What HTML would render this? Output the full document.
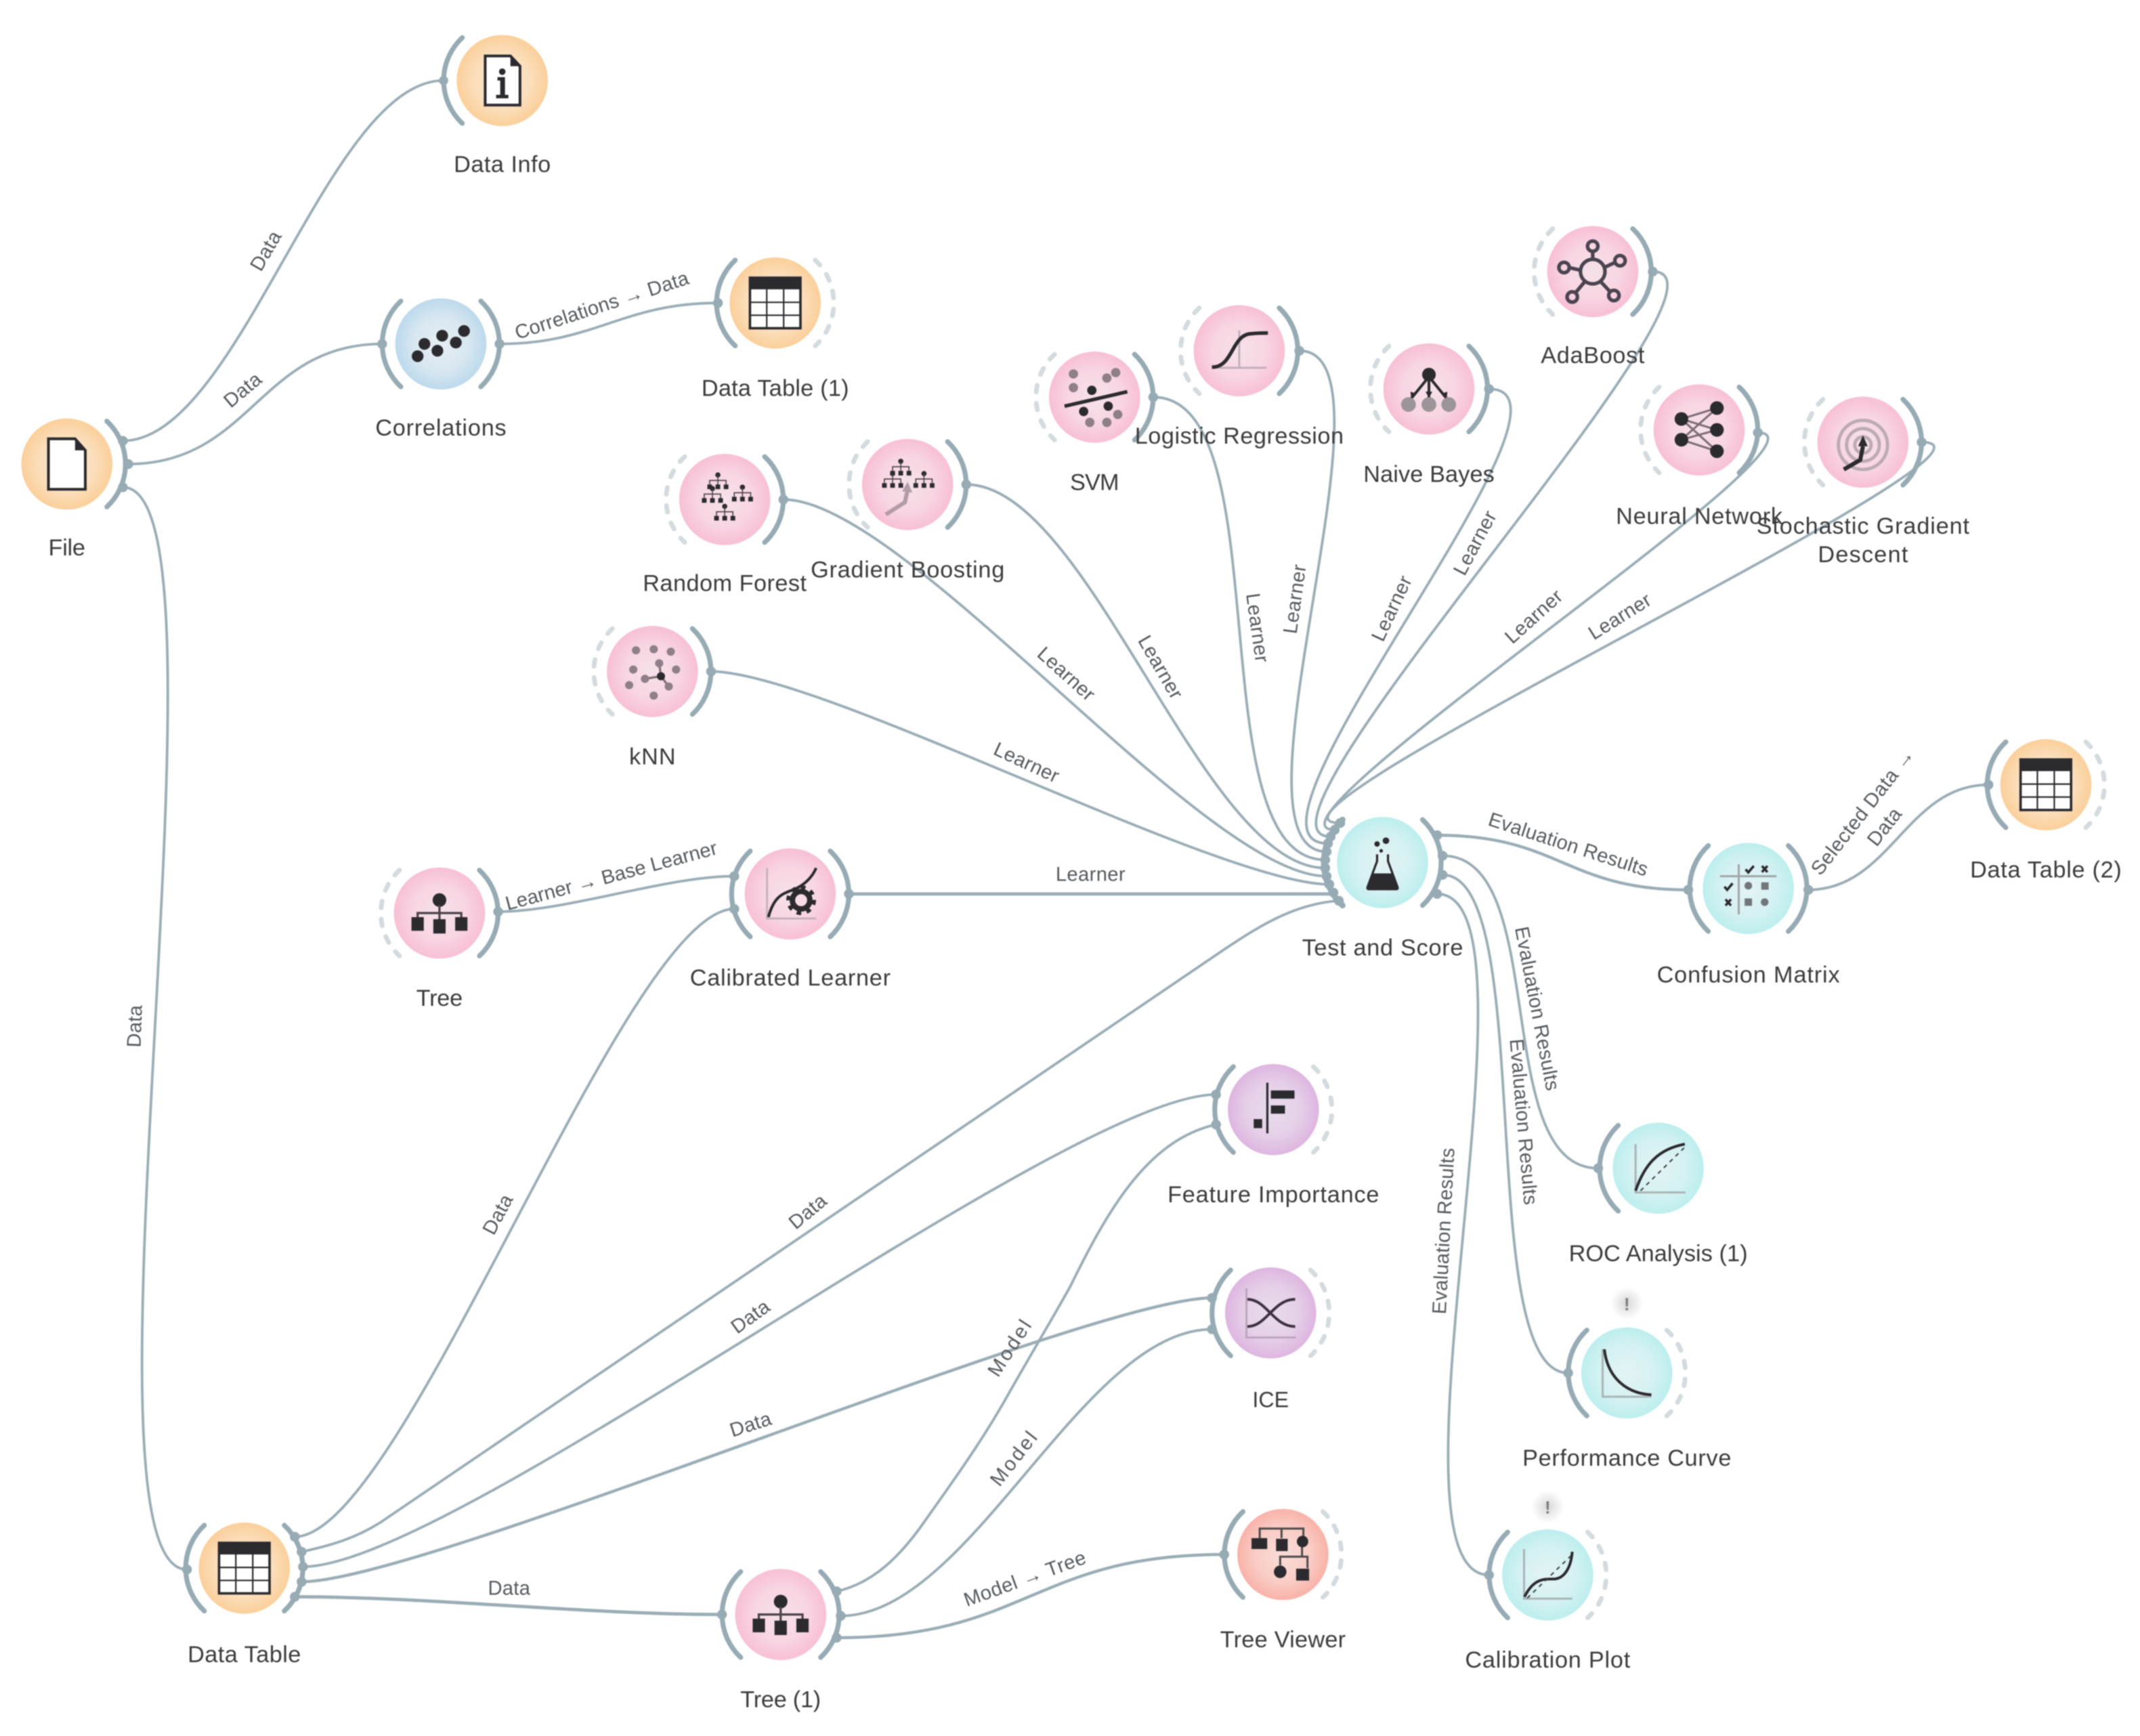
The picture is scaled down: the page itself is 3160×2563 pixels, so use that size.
<!DOCTYPE html>
<html><head><meta charset="utf-8"><title>Orange workflow</title>
<style>
html,body{margin:0;padding:0;background:#fff}
svg{display:block;filter:blur(0.9px)}
.e{fill:none;stroke:#9aadb6;stroke-width:1.9}
.a{fill:none;stroke:#97abb4;stroke-width:3.6;stroke-linecap:round}
.d{fill:none;stroke:#d4dbde;stroke-width:3.4;stroke-linecap:round;stroke-dasharray:5 8.2}
.p{fill:#97abb4}
.n{font-family:"Liberation Sans",sans-serif;font-size:17px;fill:#3b3b3d;text-anchor:middle}
.l{font-family:"Liberation Sans",sans-serif;font-size:14.5px;fill:#555a5e;text-anchor:middle}
.k{fill:#2b2a2e}
.g{fill:none;stroke:#b7a9b3;stroke-width:1.4}
</style></head><body>
<svg xmlns="http://www.w3.org/2000/svg" width="3160" height="2563" viewBox="0 0 1568 1272" preserveAspectRatio="none">
<defs>
<radialGradient id="o"><stop offset="0" stop-color="#fbe6cf"/><stop offset=".6" stop-color="#fbdfbd"/><stop offset="1" stop-color="#fbcf9a"/></radialGradient>
<radialGradient id="b"><stop offset="0" stop-color="#e6eef3"/><stop offset=".6" stop-color="#d8e7f1"/><stop offset="1" stop-color="#bcd9ec"/></radialGradient>
<radialGradient id="r"><stop offset="0" stop-color="#f5e2e9"/><stop offset=".6" stop-color="#f8d5e2"/><stop offset="1" stop-color="#f8bfd5"/></radialGradient>
<radialGradient id="t"><stop offset="0" stop-color="#e4f3f4"/><stop offset=".6" stop-color="#d5f1f2"/><stop offset="1" stop-color="#bdeeee"/></radialGradient>
<radialGradient id="u"><stop offset="0" stop-color="#e8dcec"/><stop offset=".6" stop-color="#e5cfe8"/><stop offset="1" stop-color="#deb5e0"/></radialGradient>
<radialGradient id="s"><stop offset="0" stop-color="#f9dcd7"/><stop offset=".6" stop-color="#f9cdc6"/><stop offset="1" stop-color="#f9b2a8"/></radialGradient>
<radialGradient id="w"><stop offset="0" stop-color="#d8d8d8"/><stop offset="1" stop-color="#ffffff"/></radialGradient>
<path id="aL" d="M-29.3 -31.4A43 43 0 0 0 -29.3 31.4"/>
<path id="aR" d="M29.3 -31.4A43 43 0 0 1 29.3 31.4"/>
<g id="tbl"><rect x="-18.5" y="-18.5" width="37" height="37" fill="#fff" stroke="#2b2a2e" stroke-width="1.8"/><rect x="-18.5" y="-18.5" width="37" height="8.5" class="k"/><path d="M-6.2 -10V18.5M6.2 -10V18.5M-18.5 -0.5H18.5M-18.5 9H18.5" stroke="#2b2a2e" stroke-width="1.1" fill="none"/></g>
<g id="tree"><circle cy="-9.5" r="5" class="k"/><path d="M0 -6V7M-16 6V0H16V6" fill="none" stroke="#4a4248" stroke-width="1.6"/><rect x="-20.5" y="3" width="9" height="10" class="k"/><rect x="-4.5" y="4.5" width="9" height="10.5" class="k"/><rect x="11.5" y="3" width="9" height="10" class="k"/></g>
<g id="mt"><circle r="1.9" class="k"/><path d="M0 0V7M-6 7V4H6V7" fill="none" stroke="#4a4248" stroke-width=".8"/><rect x="-7.7" y="7" width="3.4" height="3.4" class="k"/><rect x="-1.7" y="7" width="3.4" height="3.4" class="k"/><rect x="4.3" y="7" width="3.4" height="3.4" class="k"/></g>
</defs>

<!-- edges -->
<g class="e">
<path d="M90 323C175 323 240 59 325 59"/>
<path d="M94 340C184 340 190 252 280 252"/>
<path d="M90 357C180 357 47 1150 137 1150"/>
<path d="M366 252C436 252 456 222 526 222"/>
<path d="M845 291C940 291 876 630 971 630"/>
<path d="M952 257C1032 257 892 624 972 624"/>
<path d="M1091 285C1176 285 888 618 973 618"/>
<path d="M1211 199C1291 199 895 613 975 613"/>
<path d="M1288 317C1358 317 908 608 978 608"/>
<path d="M1408 324C1498 324 892 603 982 603"/>
<path d="M708 355C798 355 881 636 971 636"/>
<path d="M574 366C664 366 882 642 972 642"/>
<path d="M521 492C601 492 894 648 974 648"/>
<path d="M622 655H977" style="stroke-width:2.4"/>
<path d="M365 668C415 668 488 642 538 642"/>
<path d="M216 1126C296 1126 458 666 538 666"/>
<path d="M221 1137C245 1132 262 1126 278 1116L898 695C925 677 950 662 981 660"/>
<path d="M222 1148C332 1148 781 802 891 802"/>
<path d="M221 1159C311 1159 798 951 888 951" style="stroke-width:2.2"/>
<path d="M216 1170C316 1170 429 1183 529 1183" style="stroke-width:2.4"/>
<path d="M613 1166C640 1160 660 1140 678 1114C700 1083 720 1055 738 1023C755 993 770 968 784 943C810 890 840 835 891 824"/>
<path d="M616 1184C711 1184 793 974 888 974"/>
<path d="M613 1200C753 1200 757 1139 897 1139" style="stroke-width:2.2"/>
<path d="M1053 612C1143 612 1147 652 1237 652" style="stroke-width:2.2"/>
<path d="M1057 627C1137 627 1091 856 1171 856"/>
<path d="M1057 641C1127 641 1079 1006 1149 1006"/>
<path d="M1053 655C1138 655 1006 1154 1091 1154"/>
<path d="M1325 652C1385 652 1397 575 1457 575"/>
</g>

<!-- anchors -->
<g class="p">
<circle cx="325" cy="59" r="3.4"/><circle cx="90" cy="323" r="3.6"/><circle cx="94" cy="340" r="3.6"/><circle cx="90" cy="357" r="3.6"/>
<circle cx="280" cy="252" r="3.6"/><circle cx="366" cy="252" r="3.6"/><circle cx="526" cy="222" r="3.6"/>
<circle cx="574" cy="366" r="3.6"/><circle cx="708" cy="355" r="3.6"/><circle cx="845" cy="291" r="3.6"/><circle cx="952" cy="257" r="3.6"/><circle cx="1091" cy="285" r="3.6"/><circle cx="1211" cy="199" r="3.6"/><circle cx="1288" cy="317" r="3.6"/><circle cx="1408" cy="324" r="3.6"/><circle cx="521" cy="492" r="3.6"/><circle cx="365" cy="668" r="3.6"/><circle cx="538" cy="642" r="3.6"/><circle cx="538" cy="666" r="3.6"/><circle cx="622" cy="655" r="3.6"/>
<circle cx="982" cy="603" r="3.6"/><circle cx="978" cy="608" r="3.6"/><circle cx="975" cy="613" r="3.6"/><circle cx="973" cy="618" r="3.6"/><circle cx="972" cy="624" r="3.6"/><circle cx="971" cy="630" r="3.6"/><circle cx="971" cy="636" r="3.6"/><circle cx="972" cy="642" r="3.6"/><circle cx="974" cy="648" r="3.6"/><circle cx="977" cy="654" r="3.6"/><circle cx="981" cy="660" r="3.6"/>
<circle cx="1053" cy="612" r="3.6"/><circle cx="1057" cy="627" r="3.6"/><circle cx="1057" cy="641" r="3.6"/><circle cx="1053" cy="655" r="3.6"/>
<circle cx="1237" cy="652" r="3.6"/><circle cx="1325" cy="652" r="3.6"/><circle cx="1457" cy="575" r="3.6"/><circle cx="1171" cy="856" r="3.6"/><circle cx="1149" cy="1006" r="3.6"/><circle cx="1091" cy="1154" r="3.6"/>
<circle cx="137" cy="1150" r="3.6"/><circle cx="216" cy="1126" r="3.6"/><circle cx="221" cy="1137" r="3.6"/><circle cx="222" cy="1148" r="3.6"/><circle cx="221" cy="1159" r="3.6"/><circle cx="216" cy="1170" r="3.6"/>
<circle cx="529" cy="1183" r="3.6"/><circle cx="613" cy="1166" r="3.6"/><circle cx="616" cy="1184" r="3.6"/><circle cx="613" cy="1200" r="3.6"/><circle cx="897" cy="1139" r="3.6"/>
<circle cx="891" cy="802" r="3.6"/><circle cx="891" cy="824" r="3.6"/><circle cx="888" cy="951" r="3.6"/><circle cx="888" cy="974" r="3.6"/>
</g>

<!-- File -->
<g transform="translate(49 340)"><circle r="33.4" fill="url(#o)"/><use href="#aR" class="a"/>
<path d="M-13.5 -18.5H6L13.5 -10V18.5H-13.5Z" fill="#fff" stroke="#2b2a2e" stroke-width="2"/><path d="M6 -18.5L13.5 -10H6Z" class="k"/></g>
<!-- Data Info -->
<g transform="translate(368 59)"><circle r="33.4" fill="url(#o)"/><use href="#aL" class="a"/>
<path d="M-12.5 -18H6L13 -10.5V18H-12.5Z" fill="#fff" stroke="#2b2a2e" stroke-width="2"/><path d="M6 -18L13 -10.5H6Z" class="k"/>
<circle cy="-6.5" r="2.4" class="k"/><path d="M-3.5 -2.5H2V10.5H4.5V13H-4.5V10.5H-1.5V0H-3.5Z" class="k"/></g>
<!-- Correlations -->
<g transform="translate(323 252)"><circle r="33.4" fill="url(#b)"/><use href="#aL" class="a"/><use href="#aR" class="a"/>
<g class="k"><circle cx="-17" cy="9" r="4.3"/><circle cx="-12" cy="0" r="4.3"/><circle cx="-2.5" cy="5" r="4.3"/><circle cx="1" cy="-6" r="4.3"/><circle cx="11" cy="-1" r="4.3"/><circle cx="17" cy="-9.5" r="4.3"/></g></g>
<!-- Data Table (1) -->
<g transform="translate(568 222)"><circle r="33.4" fill="url(#o)"/><use href="#aL" class="a"/><use href="#aR" class="d"/><use href="#tbl"/></g>
<!-- Data Table (2) -->
<g transform="translate(1499 575)"><circle r="33.4" fill="url(#o)"/><use href="#aL" class="a"/><use href="#aR" class="d"/><use href="#tbl"/></g>
<!-- Data Table -->
<g transform="translate(179 1149)"><circle r="33.4" fill="url(#o)"/><use href="#aL" class="a"/><use href="#aR" class="a"/><use href="#tbl"/></g>
<!-- Random Forest -->
<g transform="translate(531 366)"><circle r="33.4" fill="url(#r)"/><use href="#aL" class="d"/><use href="#aR" class="a"/>
<use href="#mt" x="-5" y="-18"/><use href="#mt" x="13" y="-9"/><use href="#mt" x="-9" y="-8"/><use href="#mt" x="0" y="5"/></g>
<!-- Gradient Boosting -->
<g transform="translate(665 355)"><circle r="33.4" fill="url(#r)"/><use href="#aL" class="d"/><use href="#aR" class="a"/>
<use href="#mt" x="-5" y="-17"/><use href="#mt" x="12" y="-8"/><use href="#mt" x="-11" y="-8"/>
<path d="M-16 22L-2 13L0 4" fill="none" stroke="#b39ca8" stroke-width="3"/><path d="M-4 5L0 -2L3.5 6Z" fill="#b39ca8"/></g>
<!-- SVM -->
<g transform="translate(802 291)"><circle r="33.4" fill="url(#r)"/><use href="#aL" class="d"/><use href="#aR" class="a"/>
<g fill="#8e7f88"><circle cx="-15.5" cy="-17" r="3.4"/><circle cx="15.5" cy="-18" r="3.4"/><circle cx="9" cy="-14" r="3.4"/><circle cx="-15.5" cy="-7" r="3.4"/><circle cx="-3.5" cy="18.5" r="3.4"/><circle cx="9" cy="18.5" r="3.4"/><circle cx="17" cy="12.7" r="3.4"/></g>
<g class="k"><circle cx="-2" cy="-5" r="3.4"/><circle cx="-8" cy="10.5" r="3.4"/><circle cx="10" cy="6.6" r="3.4"/></g>
<path d="M-22 6.6L24 -4" stroke="#2b2a2e" stroke-width="2.6" fill="none"/></g>
<!-- Logistic Regression -->
<g transform="translate(908 257)"><circle r="33.4" fill="url(#r)"/><use href="#aL" class="d"/><use href="#aR" class="a"/>
<path d="M0 -15V13M-20 12.5H20" stroke="#c4b0bb" stroke-width="1.5" fill="none"/>
<path d="M-20 12C-4 12 -6 -12 9 -12.5C14 -13 18 -13 21 -13" stroke="#2b2a2e" stroke-width="2.6" fill="none"/></g>
<!-- Naive Bayes -->
<g transform="translate(1047 285)"><circle r="33.4" fill="url(#r)"/><use href="#aL" class="d"/><use href="#aR" class="a"/>
<path d="M0 -9L-13 7M0 -9V7M0 -9L13 7" stroke="#2b2a2e" stroke-width="2" fill="none"/>
<path d="M-2.5 2H2.5L0 6.5ZM-13.5 2L-9 3.5L-13 7.5ZM13.5 2L9 3.5L13 7.5Z" class="k"/>
<circle cy="-10.5" r="5" class="k"/>
<g fill="#9c9498"><circle cx="-15" cy="11.4" r="5.4"/><circle cy="11.4" r="5.4"/><circle cx="14.5" cy="11.4" r="5.4"/></g></g>
<!-- AdaBoost -->
<g transform="translate(1167 199)"><circle r="33.4" fill="url(#r)"/><use href="#aL" class="d"/><use href="#aR" class="a"/>
<g fill="none" stroke="#4a4450" stroke-width="2.6"><circle r="9"/><circle cy="-18.6" r="3.8"/><circle cx="20" cy="-8" r="3.8"/><circle cx="-21" cy="-3" r="3.8"/><circle cx="-15" cy="18.6" r="3.8"/><circle cx="15.5" cy="17.5" r="3.8"/>
<path d="M0 -9V-15M8.5 -3L17 -7M-9 -1L-17.5 -3M-5.5 7L-13 16M5.5 7L13 15"/></g></g>
<!-- Neural Network -->
<g transform="translate(1245 315)"><circle r="33.4" fill="url(#r)"/><use href="#aL" class="d"/><use href="#aR" class="a"/>
<path d="M-13 -8L13 -16M-13 -8L13 0M-13 -8L13 15.6M-13 7.2L13 -16M-13 7.2L13 0M-13 7.2L13 15.6" stroke="#7d6c77" stroke-width="1.5" fill="none"/>
<g class="k"><circle cx="-13" cy="-8" r="5"/><circle cx="-13" cy="7.2" r="5"/><circle cx="13" cy="-16" r="5"/><circle cx="13" r="5"/><circle cx="13" cy="15.6" r="5"/></g></g>
<!-- SGD -->
<g transform="translate(1365 324)"><circle r="33.4" fill="url(#r)"/><use href="#aL" class="d"/><use href="#aR" class="a"/>
<g fill="none" stroke="#bcaab5" stroke-width="2.4"><circle cy="2" r="18"/><circle cy="2" r="12"/><circle cy="2" r="6"/></g>
<path d="M-14 20L-2 13L0 3" fill="none" stroke="#2b2a2e" stroke-width="3"/><path d="M-3.5 3L0 -5L3.5 3Z" class="k"/></g>
<!-- kNN -->
<g transform="translate(478 492)"><circle r="33.4" fill="url(#r)"/><use href="#aL" class="d"/><use href="#aR" class="a"/>
<path d="M6.3 3.5L5 -6M6.3 3.5L-5.4 5.4M6.3 3.5L12 11" stroke="#7f6f79" stroke-width="1.6" fill="none"/>
<g fill="#8e7f88"><circle cx="-12" cy="-15.5" r="3"/><circle cx="1" cy="-16.3" r="3"/><circle cx="13.5" cy="-14.5" r="3"/><circle cx="-14" cy="-1.4" r="3"/><circle cx="17.4" cy="-1.4" r="3"/><circle cx="-17" cy="10" r="3"/><circle cx="1" cy="17.7" r="3"/><circle cx="12" cy="11" r="3"/><circle cx="5" cy="-6" r="3"/><circle cx="-5.4" cy="5.4" r="3"/></g>
<circle cx="6.3" cy="3.5" r="3" class="k"/></g>
<!-- Tree -->
<g transform="translate(322 669)"><circle r="33.4" fill="url(#r)"/><use href="#aL" class="d"/><use href="#aR" class="a"/><use href="#tree"/></g>
<!-- Tree (1) -->
<g transform="translate(572 1183)"><circle r="33.4" fill="url(#r)"/><use href="#aL" class="a"/><use href="#aR" class="a"/><use href="#tree"/></g>
<!-- Calibrated Learner -->
<g transform="translate(579 655)"><circle r="33.4" fill="url(#r)"/><use href="#aL" class="a"/><use href="#aR" class="a"/>
<path d="M-17 -19V18H19" stroke="#c4b0bb" stroke-width="1.4" fill="none"/>
<path d="M-16 17C-12 2 -6 0 2 -3C10 -6 16 -12 19 -19" stroke="#2b2a2e" stroke-width="2" fill="none"/>
<circle cx="8" cy="4.6" r="6.4" fill="none" stroke="#2b2a2e" stroke-width="4"/>
<circle cx="8" cy="4.6" r="9.6" fill="none" stroke="#2b2a2e" stroke-width="2.6" stroke-dasharray="3.4 4.1"/></g>
<!-- Test and Score -->
<g transform="translate(1013 632)"><circle r="33.4" fill="url(#t)"/><use href="#aL" class="a" style="stroke-width:4.4"/><use href="#aR" class="a"/>
<path d="M-4 -6V-1L-11 18Q-11.5 19.5 -10 19.5H10Q11.5 19.5 11 18L4 -1V-6" fill="none" stroke="#2b2a2e" stroke-width="1.6"/>
<path d="M-7.2 8H7.2L11 18Q11.5 19.5 10 19.5H-10Q-11.5 19.5 -11 18Z" class="k"/>
<g class="k"><circle cx="2.5" cy="-16" r="2.4"/><circle cx="-4" cy="-13.6" r="2"/><circle cx="-1" cy="-8.6" r="1.3"/></g></g>
<!-- Confusion Matrix -->
<g transform="translate(1281 651)"><circle r="33.4" fill="url(#t)"/><use href="#aL" class="a"/><use href="#aR" class="a"/>
<path d="M-7 -17.7V19M-20.7 -9H20.7" stroke="#a0a6a8" stroke-width="1.5" fill="none"/>
<g fill="none" stroke="#2b2a2e" stroke-width="1.8"><path d="M-2 -14L0 -11.8L4 -16.5M-17.5 -1.3L-15.5 1L-11.5 -3.8"/><path d="M10 -16.5L14 -12M14 -16.5L10 -12M-16.7 8L-12.7 12.5M-12.7 8L-16.7 12.5"/></g>
<g fill="#72767a"><circle cy="-2" r="2.8"/><rect x="9.5" y="-4.5" width="5.4" height="5.4"/><rect x="-2.7" y="7.3" width="5.4" height="5.4"/><circle cx="12" cy="10" r="2.8"/></g></g>
<!-- ROC -->
<g transform="translate(1215 856)"><circle r="33.4" fill="url(#t)"/><use href="#aL" class="a"/>
<path d="M-16.6 -17.7V17.7H20" stroke="#a9b5b7" stroke-width="1.5" fill="none"/>
<path d="M-16.6 16.5C-10 -3 0 -14 19.5 -17.7" stroke="#2b2a2e" stroke-width="2" fill="none"/>
<path d="M-13 16.5L19 -15" stroke="#3c4042" stroke-width="1" stroke-dasharray="3 3" fill="none"/></g>
<!-- Feature Importance -->
<g transform="translate(933 813)"><circle r="33.4" fill="url(#u)"/><use href="#aL" class="a"/><use href="#aR" class="d"/>
<path d="M-4.4 -19.7V17.4" stroke="#2b2a2e" stroke-width="1.6"/>
<g class="k"><rect x="-1.8" y="-14" width="17.3" height="6"/><rect x="-1.8" y="-3" width="10.3" height="6"/><rect x="-14.4" y="7" width="6.2" height="6.6"/></g></g>
<!-- ICE -->
<g transform="translate(931 962)"><circle r="33.4" fill="url(#u)"/><use href="#aL" class="a"/><use href="#aR" class="d"/>
<path d="M-17.7 -18V18H18.4" stroke="#b9a3bd" stroke-width="1.4" fill="none"/>
<path d="M-17 -10C-3 -10 2 10 18 10M-17 10C-3 10 2 -10 18 -10" stroke="#3e3242" stroke-width="2" fill="none"/></g>
<!-- Performance Curve -->
<g transform="translate(1192 1006)"><circle r="33.4" fill="url(#t)"/><use href="#aL" class="a"/><use href="#aR" class="d"/>
<path d="M-17.7 -17.4V17.4H18" stroke="#a9b5b7" stroke-width="1.5" fill="none"/>
<path d="M-16.5 -17.4C-14 4 0 15 18 16" stroke="#2b2a2e" stroke-width="2" fill="none"/></g>
<!-- Calibration Plot -->
<g transform="translate(1134 1154)"><circle r="33.4" fill="url(#t)"/><use href="#aL" class="a"/><use href="#aR" class="d"/>
<path d="M-17.3 -19V17.4H18" stroke="#a9b5b7" stroke-width="1.5" fill="none"/>
<path d="M-17 16C-10 2 -2 3 4 3C12 3 17 -5 18 -17" stroke="#2b2a2e" stroke-width="2" fill="none"/>
<path d="M-15 17L17 -14" stroke="#3c4042" stroke-width="1" stroke-dasharray="3 3" fill="none"/></g>
<!-- Tree Viewer -->
<g transform="translate(940 1139)"><circle r="33.4" fill="url(#s)"/><use href="#aL" class="a"/><use href="#aR" class="d"/>
<path d="M-17 -12V-19H15V-13M-1 -19V-12M-2 8V1.6H18V10M14 -6V2" fill="none" stroke="#4e4a4a" stroke-width="1.5"/>
<g class="k"><rect x="-23" y="-12" width="11.5" height="8"/><rect x="-5" y="-11.5" width="8.5" height="9"/><circle cx="14.4" cy="-9.5" r="4.2"/><circle cx="-2" cy="12.7" r="4.6"/><rect x="9.7" y="10.4" width="9.5" height="8.7"/></g></g>

<!-- warnings -->
<circle cx="1192" cy="955" r="12" fill="url(#w)"/><text x="1192" y="960" font-family="Liberation Sans,sans-serif" font-size="13" font-weight="bold" fill="#7d7d7d" text-anchor="middle">!</text>
<circle cx="1134" cy="1104" r="12" fill="url(#w)"/><text x="1134" y="1109" font-family="Liberation Sans,sans-serif" font-size="13" font-weight="bold" fill="#7d7d7d" text-anchor="middle">!</text>

<!-- node labels -->
<text class="n" x="368" y="126" textLength="71">Data Info</text>
<text class="n" x="323" y="319" textLength="96">Correlations</text>
<text class="n" x="568" y="290" textLength="108">Data Table (1)</text>
<text class="n" x="49" y="407" textLength="27">File</text>
<text class="n" x="531" y="433" textLength="120">Random Forest</text>
<text class="n" x="665" y="423" textLength="142">Gradient Boosting</text>
<text class="n" x="802" y="359" textLength="36">SVM</text>
<text class="n" x="908" y="325" textLength="153">Logistic Regression</text>
<text class="n" x="1047" y="353" textLength="96">Naive Bayes</text>
<text class="n" x="1167" y="266" textLength="76">AdaBoost</text>
<text class="n" x="1245" y="384" textLength="122">Neural Network</text>
<text class="n" x="1365" y="391" textLength="156">Stochastic Gradient</text>
<text class="n" x="1365" y="412" textLength="66">Descent</text>
<text class="n" x="478" y="560" textLength="34">kNN</text>
<text class="n" x="322" y="737" textLength="34">Tree</text>
<text class="n" x="579" y="722" textLength="147">Calibrated Learner</text>
<text class="n" x="1013" y="700" textLength="118">Test and Score</text>
<text class="n" x="1281" y="720" textLength="134">Confusion Matrix</text>
<text class="n" x="1499" y="643" textLength="111">Data Table (2)</text>
<text class="n" x="1215" y="924" textLength="131">ROC Analysis (1)</text>
<text class="n" x="933" y="881" textLength="155">Feature Importance</text>
<text class="n" x="931" y="1031" style="font-size:16px">ICE</text>
<text class="n" x="1192" y="1074" textLength="153">Performance Curve</text>
<text class="n" x="1134" y="1222" textLength="121">Calibration Plot</text>
<text class="n" x="179" y="1218" textLength="83">Data Table</text>
<text class="n" x="572" y="1251" textLength="59">Tree (1)</text>
<text class="n" x="940" y="1207" textLength="92">Tree Viewer</text>

<!-- edge labels -->
<text class="l" transform="translate(195 184) rotate(-60)" dy="4.5" textLength="31">Data</text>
<text class="l" transform="translate(178 286) rotate(-40)" dy="4.5" textLength="31">Data</text>
<text class="l" transform="translate(441 224) rotate(-18)" dy="4.5" textLength="133">Correlations → Data</text>
<text class="l" transform="translate(781 494) rotate(42)" dy="4.5" textLength="51">Learner</text>
<text class="l" transform="translate(850 489) rotate(60)" dy="4.5" textLength="51">Learner</text>
<text class="l" transform="translate(921 460) rotate(82)" dy="4.5" textLength="51">Learner</text>
<text class="l" transform="translate(949 439) rotate(-82)" dy="4.5" textLength="51">Learner</text>
<text class="l" transform="translate(1020 446) rotate(-65)" dy="4.5" textLength="51">Learner</text>
<text class="l" transform="translate(1081 398) rotate(-62)" dy="4.5" textLength="51">Learner</text>
<text class="l" transform="translate(1124 452) rotate(-42)" dy="4.5" textLength="51">Learner</text>
<text class="l" transform="translate(1187 452) rotate(-32)" dy="4.5" textLength="51">Learner</text>
<text class="l" transform="translate(752 559) rotate(25)" dy="4.5" textLength="51">Learner</text>
<text class="l" transform="translate(448 642) rotate(-15)" dy="4.5" textLength="160">Learner → Base Learner</text>
<text class="l" x="799" y="645.5" textLength="51">Learner</text>
<text class="l" transform="translate(365 890) rotate(-62)" dy="4.5" textLength="31">Data</text>
<text class="l" transform="translate(592 888) rotate(-40)" dy="4.5" textLength="31">Data</text>
<text class="l" transform="translate(550 965) rotate(-36)" dy="4.5" textLength="31">Data</text>
<text class="l" transform="translate(550 1044) rotate(-18)" dy="4.5" textLength="31">Data</text>
<text class="l" transform="translate(740 988) rotate(-57)" dy="4.5" textLength="46">Model</text>
<text class="l" transform="translate(743 1069) rotate(-52)" dy="4.5" textLength="46">Model</text>
<text class="l" transform="translate(751 1157) rotate(-20)" dy="4.5" textLength="94">Model → Tree</text>
<text class="l" x="373" y="1168.5" textLength="31">Data</text>
<text class="l" transform="translate(99 752) rotate(-88)" dy="4.5" textLength="31">Data</text>
<text class="l" transform="translate(1149 619) rotate(18)" dy="4.5" textLength="122">Evaluation Results</text>
<text class="l" transform="translate(1126 739) rotate(79)" dy="4.5" textLength="122">Evaluation Results</text>
<text class="l" transform="translate(1116 822) rotate(85)" dy="4.5" textLength="122">Evaluation Results</text>
<text class="l" transform="translate(1058 902) rotate(-87)" dy="4.5" textLength="122">Evaluation Results</text>
<text class="l" transform="translate(1365 595) rotate(-52)" dy="4.5" textLength="113">Selected Data →</text>
<text class="l" transform="translate(1381 606) rotate(-52)" dy="4.5" textLength="31">Data</text>
</svg>
</body></html>
